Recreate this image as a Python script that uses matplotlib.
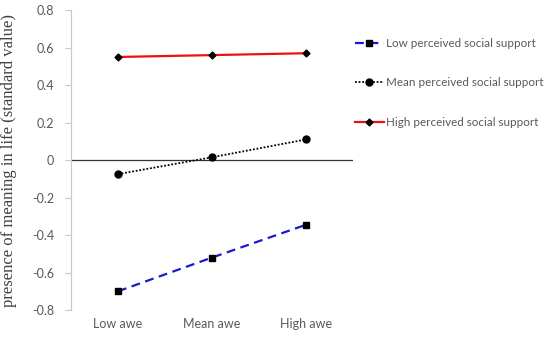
import matplotlib.pyplot as plt

# data
categories = ['Low awe', 'Mean awe', 'High awe']
low_support = [-0.70, -0.52, -0.345]
mean_support = [-0.075, 0.015, 0.11]
high_support = [0.55, 0.56, 0.57]
yticks = [-0.8, -0.6, -0.4, -0.2, 0, 0.2, 0.4, 0.6, 0.8]

plt.rcParams['font.family'] = ['Lato', 'DejaVu Sans']

fig = plt.figure(figsize=(5.5, 3.37), dpi=100)
ax = fig.add_axes([0.129, 0.080, 0.513, 0.890])

x = range(len(categories))
ax.plot(x, low_support, color='#1a1acc', linestyle=(0, (4, 2.5)), linewidth=1.6,
        marker='s', markersize=5, markerfacecolor='black', markeredgecolor='black',
        label='Low perceived social support')
ax.plot(x, mean_support, color='black', linestyle=(0, (1, 1)), linewidth=1.3,
        marker='o', markersize=5, markerfacecolor='black', markeredgecolor='black',
        label='Mean perceived social support')
ax.plot(x, high_support, color='#ee1111', linestyle='-', linewidth=1.6,
        marker='D', markersize=3.5, markerfacecolor='black', markeredgecolor='black',
        label='High perceived social support')

ax.axhline(0, color='#333333', linewidth=0.9, zorder=0)

ax.set_xlim(-0.5, 2.5)
ax.set_ylim(-0.8, 0.8)
ax.set_yticks(yticks)
ax.set_yticklabels(['-0.8', '-0.6', '-0.4', '-0.2', '0', '0.2', '0.4', '0.6', '0.8'])
ax.set_xticks(list(x))
ax.set_xticklabels(categories)

for side in ['top', 'right', 'bottom']:
    ax.spines[side].set_visible(False)
ax.spines['left'].set_color('#c8c8c8')
ax.tick_params(axis='y', colors='#595959', labelsize=9, length=4, color='#c8c8c8', pad=8)
ax.tick_params(axis='x', colors='#595959', labelsize=9, length=0, pad=6)

ax.set_ylabel('presence of meaning in life (standard value)', family='Liberation Serif',
              fontsize=12, color='#404040', labelpad=11)

leg = fig.legend(loc='upper left', bbox_to_anchor=(0.645, 0.888), frameon=False,
                 fontsize=8.4, labelspacing=2.45, handlelength=2.5, handletextpad=0.15,
                 borderpad=0, borderaxespad=0)
for t in leg.get_texts():
    t.set_color('#595959')

fig.savefig('out.png', dpi=100)
